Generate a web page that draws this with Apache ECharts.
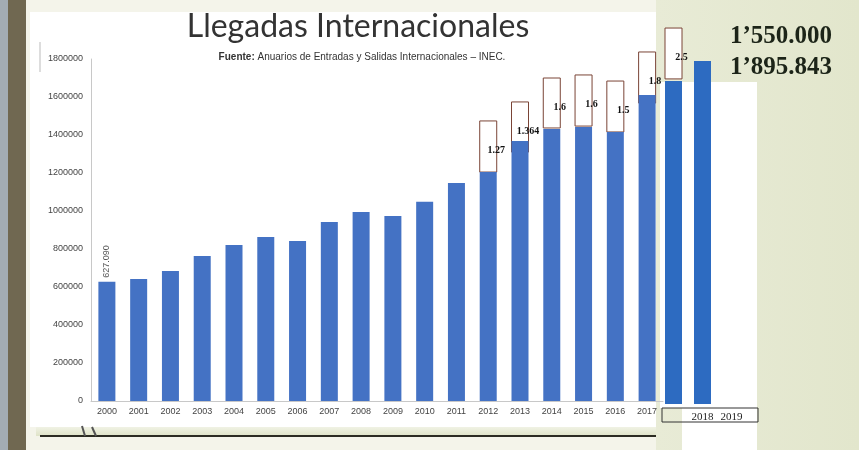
<!DOCTYPE html>
<html>
<head>
<meta charset="utf-8">
<script src="https://cdn.jsdelivr.net/npm/echarts@6/dist/echarts.min.js"></script>
<style>
html,body{margin:0;padding:0;background:#f4f4ea;}
#chart{width:859px;height:450px;}
</style>
</head>
<body>
<div id="chart"></div>
<script>
// ---- data ----
var years = ['2000','2001','2002','2003','2004','2005','2006','2007','2008','2009','2010','2011','2012','2013','2014','2015','2016','2017'];
var arrivals = [627090, 642000, 684000, 763000, 821000, 863000, 842000, 942000, 995000, 974000, 1049000, 1147000, 1205000, 1368000, 1432000, 1442000, 1416000, 1610000];
var years2 = ['2018','2019'];
var arrivals2 = [1695000, 1853000];
var yTicks = [0, 200000, 400000, 600000, 800000, 1000000, 1200000, 1400000, 1600000, 1800000];
var firstLabel = '627.090';
// annotation boxes (category, low, high)
var boxYears = ['2012','2013','2014','2015','2016','2017'];
var boxLow = [1205000, 1310000, 1437000, 1447000, 1416000, 1568000];
var boxHigh = [1474000, 1574000, 1700000, 1716000, 1684000, 1837000];
var boxLabels = ['1.27','1.364','1.6','1.6','1.5','1.8'];
var boxYears2 = ['2018'];
var boxLow2 = [1706000];
var boxHigh2 = [1973000];
var boxLabels2 = ['2.5'];
var titleText = 'Llegadas Internacionales';
var sourceBold = 'Fuente:';
var sourceText = ' Anuarios de Entradas y Salidas Internacionales – INEC.';
var sideTexts = ['1’550.000', '1’895.843'];

var chart = echarts.init(document.getElementById('chart'), null, {renderer:'canvas'});

function boxData(cats, low, high){
  return cats.map(function(c,i){ return [c, low[i], high[i]]; });
}
function renderBox(params, api){
  var top = api.coord([api.value(0), api.value(2)]);
  var bot = api.coord([api.value(0), api.value(1)]);
  var w = 17;
  return {type:'rect', shape:{x: top[0]-w/2, y: top[1], width: w, height: bot[1]-top[1]},
    style:{fill:'#ffffff', stroke:'#7a4436', lineWidth:1}};
}
function makeLabelRender(labels){
  return function(params, api){
    var top = api.coord([api.value(0), api.value(2)]);
    var bot = api.coord([api.value(0), api.value(1)]);
    return {type:'text', x: top[0]+8, y: (top[1]+bot[1])/2+4,
      style:{text: labels[params.dataIndex], fill:'#111', font:'bold 10px "Liberation Serif", serif', align:'center', verticalAlign:'middle'}};
  };
}

var barData = arrivals.map(function(v,i){
  if(i===0){
    return {value:v, label:{show:true, rotate:90, position:'top', distance:4, formatter:firstLabel,
      fontSize:9, color:'#555', fontFamily:'Liberation Sans', align:'left', verticalAlign:'middle'}};
  }
  return v;
});

var option = {
  animation:false,
  backgroundColor:'#f4f4ea',
  graphic:[
    {type:'rect', z:-100, shape:{x:0,y:0,width:8,height:450}, style:{fill:'#a3acb3'}},
    {type:'rect', z:-100, shape:{x:8,y:0,width:18,height:450}, style:{fill:'#706851'}},
    {type:'rect', z:-100, shape:{x:30,y:12,width:626,height:415}, style:{fill:'#ffffff'}},
    {type:'rect', z:-100, shape:{x:36,y:427,width:620,height:9}, style:{fill:new echarts.graphic.LinearGradient(0,0,0,1,[{offset:0,color:'#f0f2e4'},{offset:1,color:'#dfe3c8'}])}},
    {type:'rect', z:-99, shape:{x:40,y:435,width:616,height:2}, style:{fill:'#2b2b22'}},
    {type:'line', z:-99, shape:{x1:82,y1:426,x2:85,y2:436}, style:{stroke:'#555',lineWidth:2}},
    {type:'line', z:-99, shape:{x1:92,y1:427,x2:96,y2:436}, style:{stroke:'#555',lineWidth:2}},
    {type:'rect', z:-100, shape:{x:656,y:0,width:203,height:450}, style:{fill:new echarts.graphic.LinearGradient(0,0,1,0,[{offset:0,color:'#e8ebd6'},{offset:1,color:'#e2e6cc'}])}},
    {type:'rect', z:-99, shape:{x:660,y:82,width:97,height:326}, style:{fill:'#ffffff'}},
    {type:'rect', z:-99, shape:{x:682,y:408,width:75,height:42}, style:{fill:'#ffffff'}},
    {type:'line', z:-99, shape:{x1:40,y1:42,x2:40,y2:72}, style:{stroke:'#bbb',lineWidth:1}},
    {type:'rect', z:50, shape:{x:662,y:408,width:96,height:14}, style:{fill:null, stroke:'#333', lineWidth:1}},
    {type:'text', z:50, x:358, y:27, style:{text:titleText, font:'32px Lato, "Open Sans", sans-serif', fill:'#333', align:'center', verticalAlign:'middle'}},
    {type:'text', z:50, x:362, y:57, style:{
      text:'{b|'+sourceBold+'}{r|'+sourceText+'}', align:'center', verticalAlign:'middle',
      rich:{b:{font:'bold 10px "Liberation Sans", Arial', fill:'#333'}, r:{font:'10px "Liberation Sans", Arial', fill:'#333'}}}},
    {type:'text', z:50, x:781, y:37, style:{text:sideTexts[0], font:'bold 25px "Liberation Serif", serif', fill:'#1c2418', align:'center', verticalAlign:'middle'}},
    {type:'text', z:50, x:781, y:68, style:{text:sideTexts[1], font:'bold 25px "Liberation Serif", serif', fill:'#1c2418', align:'center', verticalAlign:'middle'}}
  ],
  grid:[
    {left:91, top:59, width:572, height:342, containLabel:false},
    {left:659, top:61, width:58, height:343, containLabel:false}
  ],
  xAxis:[
    {type:'category', gridIndex:0, data:years,
      axisLine:{show:true, lineStyle:{color:'#c8c8c8'}}, axisTick:{show:false},
      axisLabel:{fontSize:9, color:'#444', fontFamily:'Liberation Sans', margin:6}},
    {type:'category', gridIndex:1, data:years2,
      axisLine:{show:false}, axisTick:{show:false},
      axisLabel:{fontSize:11, color:'#222', fontFamily:'Liberation Serif', margin:8, padding:[0,0,0,58]}}
  ],
  yAxis:[
    {type:'value', gridIndex:0, min:yTicks[0], max:yTicks[yTicks.length-1], interval:yTicks[1]-yTicks[0],
      axisLine:{show:true, lineStyle:{color:'#c8c8c8'}}, axisTick:{show:false}, splitLine:{show:false},
      axisLabel:{fontSize:9, color:'#444', fontFamily:'Liberation Sans', margin:8, formatter:function(v){ return String(v); }}},
    {type:'value', gridIndex:1, min:yTicks[0], max:yTicks[yTicks.length-1], show:false, splitLine:{show:false}}
  ],
  series:[
    {type:'custom', xAxisIndex:0, yAxisIndex:0, z:1, data:boxData(boxYears,boxLow,boxHigh), encode:{x:0,y:[1,2]}, renderItem:renderBox, silent:true},
    {type:'custom', xAxisIndex:1, yAxisIndex:1, z:1, data:boxData(boxYears2,boxLow2,boxHigh2), encode:{x:0,y:[1,2]}, renderItem:renderBox, silent:true},
    {type:'bar', xAxisIndex:0, yAxisIndex:0, z:2, barWidth:17, data:barData, itemStyle:{color:'#4472c4'}},
    {type:'bar', xAxisIndex:1, yAxisIndex:1, z:2, barWidth:17, data:arrivals2, itemStyle:{color:'#2d6bc1'}},
    {type:'custom', xAxisIndex:0, yAxisIndex:0, z:5, data:boxData(boxYears,boxLow,boxHigh), encode:{x:0,y:[1,2]}, renderItem:makeLabelRender(boxLabels), silent:true},
    {type:'custom', xAxisIndex:1, yAxisIndex:1, z:5, data:boxData(boxYears2,boxLow2,boxHigh2), encode:{x:0,y:[1,2]}, renderItem:makeLabelRender(boxLabels2), silent:true}
  ]
};
chart.setOption(option);
</script>
</body>
</html>
